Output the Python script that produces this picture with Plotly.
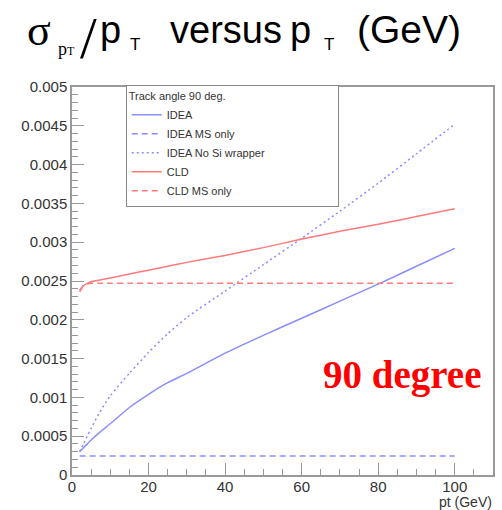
import plotly.graph_objects as go

# ---------------- data ----------------
pt = [2, 3, 4, 5, 7, 10, 15, 20, 25, 30, 40, 50, 60, 70, 80, 90, 100]
idea = [0.00030, 0.00035, 0.00040, 0.00045, 0.00054, 0.00066, 0.00087, 0.00104, 0.00119,
        0.00131, 0.00157, 0.00180, 0.00202, 0.00224, 0.00246, 0.00269, 0.00292]
idea_ms = [0.000245] * 17
idea_nosi = [0.00030, 0.00040, 0.00050, 0.00060, 0.00079, 0.00102, 0.00131, 0.00158, 0.00182,
             0.00203, 0.00237, 0.00271, 0.00305, 0.00340, 0.00376, 0.00414, 0.00452]
cld = [0.00236, 0.00244, 0.00247, 0.00249, 0.00251, 0.00254, 0.00259, 0.00264, 0.00269,
       0.00274, 0.00283, 0.00293, 0.00304, 0.00314, 0.00323, 0.00333, 0.00343]
cld_ms = [0.00238, 0.00244, 0.00246, 0.00247, 0.00247, 0.00247, 0.00247, 0.00247, 0.00247,
          0.00247, 0.00247, 0.00247, 0.00247, 0.00247, 0.00247, 0.00247, 0.00247]

series_names = ["IDEA", "IDEA MS only", "IDEA No Si wrapper", "CLD", "CLD MS only"]

y_tickvals = [0, 0.0005, 0.001, 0.0015, 0.002, 0.0025, 0.003, 0.0035, 0.004, 0.0045, 0.005]
y_ticktext = ["0", "0.0005", "0.001", "0.0015", "0.002", "0.0025", "0.003", "0.0035",
              "0.004", "0.0045", "0.005"]
x_tickvals = [0, 20, 40, 60, 80, 100]
x_ticktext = ["0", "20", "40", "60", "80", "100"]

BLUE = "#8c8cff"
RED = "#ff7a7a"
PAD = "\u00a0" * 22   # widens the fixed-size ROOT-style legend box

fig = go.Figure()


def add(y, name, color, dash=None, smooth=True):
    line = dict(color=color, width=1.5)
    if dash:
        line["dash"] = dash
    if smooth:
        line["shape"] = "spline"
        line["smoothing"] = 0.6
    fig.add_trace(go.Scatter(x=pt, y=y, mode="lines", name=name, line=line))


add(idea, series_names[0], BLUE)
add(idea_ms, series_names[1], BLUE, "6px,4px", smooth=False)
add(idea_nosi, series_names[2] + PAD, BLUE, "2px,3px")
add(cld, series_names[3], RED)
add(cld_ms, series_names[4], RED, "6px,4px")

W, H = 502, 510
L, R, T, B = 72, 7, 87, 35
PW, PH = W - L - R, H - T - B


def px(x):
    return (x - L) / PW


def py(y):
    return (H - B - y) / PH


def ann(text, x, y, size, family="Liberation Sans", color="#000", xanchor="left", **kw):
    fig.add_annotation(text=text, xref="paper", yref="paper", x=px(x), y=py(y),
                       xanchor=xanchor, yanchor="middle", showarrow=False,
                       font=dict(size=size, family=family, color=color), borderpad=0, **kw)


# title pieces
ann("σ", 26, 45 - 0.34 * 44, 44, "Liberation Serif")
ann('p<span style="font-size:12px">T</span>', 57, 55 - 0.34 * 18, 18, "Liberation Serif")
ann("/", 79, 58 - 0.3375 * 60, 60, "Liberation Serif")
ann("p", 99.5, 43 - 0.3465 * 38, 38)
ann("T", 129, 50 - 0.3465 * 17, 17)
ann("versus", 169, 43 - 0.3465 * 38, 38)
ann("p", 290.5, 43 - 0.3465 * 38, 38)
ann("T", 324, 50 - 0.3465 * 17, 17)
ann("(GeV)", 357, 43 - 0.3465 * 39, 39)

# axis title and label
ann("pt (GeV)", 495, 502, 14, color="#333", xanchor="right")
ann("<b>90 degree</b>", 404, 388 - 0.3375 * 39, 39, "Liberation Serif", color="#ff0000",
    xanchor="center")

axis_common = dict(showline=True, linecolor="#999", linewidth=1.5, mirror=True,
                   ticks="inside", ticklen=12, tickcolor="#999", tickwidth=1.2,
                   showgrid=False, zeroline=False,
                   tickfont=dict(size=15, family="Liberation Sans", color="#333"))

fig.update_xaxes(range=[0, 110], tickmode="array", tickvals=x_tickvals, ticktext=x_ticktext,
                 ticklabelstandoff=-3,
                 minor=dict(ticks="inside", ticklen=6, tickmode="linear", tick0=0, dtick=5,
                            tickcolor="#999", tickwidth=1.2, showgrid=False),
                 **axis_common)
fig.update_yaxes(range=[0, 0.005], tickmode="array", tickvals=y_tickvals, ticktext=y_ticktext,
                 minor=dict(ticks="inside", ticklen=6, tickmode="linear", tick0=0, dtick=0.0001,
                            tickcolor="#999", tickwidth=1.2, showgrid=False),
                 **axis_common)

fig.update_layout(
    width=W, height=H, margin=dict(l=L, r=R, t=T, b=B),
    paper_bgcolor="white", plot_bgcolor="white",
    showlegend=True,
    legend=dict(x=px(126), y=py(85), xanchor="left", yanchor="top",
                bgcolor="white", bordercolor="#888", borderwidth=1,
                font=dict(size=11, family="Liberation Sans", color="#333"),
                title=dict(text="Track angle 90 deg.",
                           font=dict(size=11, family="Liberation Sans", color="#333")),
                tracegroupgap=0),
)

fig.write_html("out.html", config={"displayModeBar": False},
               post_script="document.body.style.margin='0';")
